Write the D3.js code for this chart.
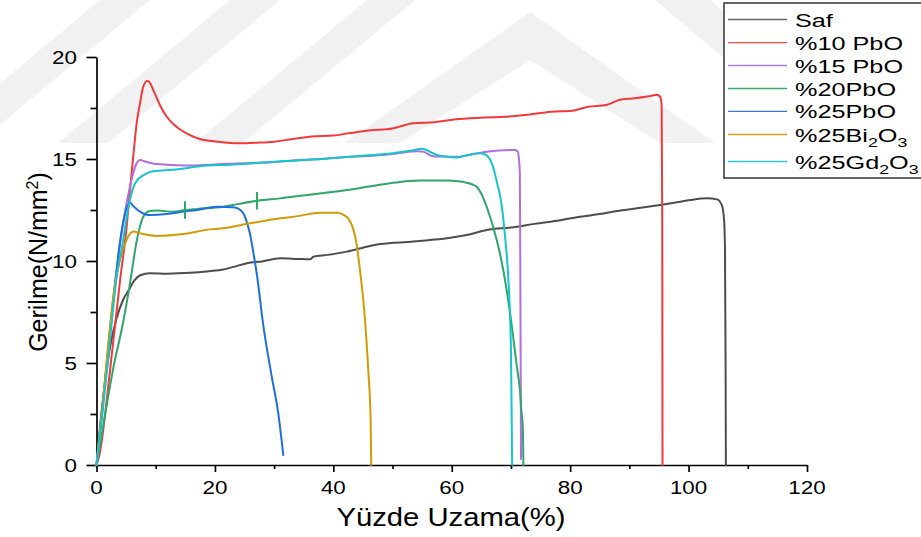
<!DOCTYPE html>
<html><head><meta charset="utf-8">
<script src="https://cdn.jsdelivr.net/npm/d3@7"></script>
<style>
body{margin:0;background:#fff;}
svg{display:block;font-family:Arial,"Liberation Sans",sans-serif;}
</style>
</head><body>
<svg id="chart" width="921" height="537"></svg>
<script>
// ---------------- data ----------------
const seriesNames = ["Saf","%10 PbO","%15 PbO","%20PbO","%25PbO","%25Bi2O3","%25Gd2O3"];
const saf = [[0,0],[0.6,1.9],[1.2,3.5],[2.3,5.8],[3.4,7.2],[4.5,8.1],[5.5,8.6],[6.4,9.05],[7.4,9.3],[9,9.4],[12,9.38],[15.8,9.42],[19,9.5],[21.4,9.58],[23,9.7],[25.4,9.89],[28,9.98],[31,10.13],[34,10.1],[36.1,10.08],[36.6,10.21],[39,10.3],[42.3,10.46],[46.2,10.74],[47.9,10.83],[53.5,10.95],[57,11.05],[59.2,11.11],[62.5,11.27],[65.9,11.52],[70.4,11.65],[74,11.82],[78.3,12.0],[81.7,12.17],[85,12.3],[88,12.45],[91,12.57],[95.2,12.75],[98,12.88],[100.3,12.99],[103.1,13.07],[104.8,13.02],[105.6,12.75],[106.0,12.0],[106.15,10.5],[106.25,5],[106.3,0]];
const pbo10 = [[0,0],[0.5,0.5],[1,1.4],[1.5,2.6],[2,3.9],[2.5,5.2],[3,6.5],[4,9.1],[5.1,11.7],[5.6,13.3],[6.2,15.1],[6.8,16.8],[7.35,17.73],[7.9,18.55],[8.6,18.84],[9.1,18.7],[9.6,18.38],[10.7,17.65],[11.86,17.07],[13.5,16.58],[15.2,16.26],[17.5,15.98],[20.5,15.85],[24,15.77],[27.1,15.8],[30,15.85],[33,15.97],[36.4,16.1],[40,16.15],[42.6,16.26],[46,16.4],[50,16.5],[53.5,16.75],[57,16.8],[61.2,16.96],[65.6,17.04],[69,17.07],[72.4,17.16],[76.8,17.32],[80.4,17.37],[83,17.56],[86.1,17.65],[88.4,17.9],[90.6,17.97],[93.8,18.1],[94.6,18.15],[95.2,18.05],[95.45,17.6],[95.55,12],[95.6,0]];
const pbo15 = [[0,0],[0.5,1.4],[1,2.9],[1.5,4.3],[2,5.7],[2.84,8.2],[3.5,9.8],[4.5,11.85],[5.4,13.3],[6.2,14.3],[6.8,14.8],[7.35,14.95],[8.2,14.88],[10.2,14.75],[14.7,14.68],[21.4,14.75],[26,14.8],[30.2,14.85],[32.7,14.92],[38,15.0],[42,15.1],[45.7,15.15],[50,15.25],[54.3,15.38],[55.3,15.35],[56.6,15.15],[58,15.12],[61.2,15.11],[63,15.2],[65.9,15.36],[68,15.42],[70.6,15.44],[71.1,15.38],[71.35,15.0],[71.5,14.3],[71.6,8],[71.7,0.3]];
const pbo20 = [[0,0],[1,1.7],[2,3.4],[3,5.0],[4,6.3],[4.5,7.0],[5.66,8.9],[6.8,11.0],[7.35,11.7],[7.9,12.17],[9,12.45],[10.2,12.47],[13,12.42],[15,12.5],[17,12.55],[21.4,12.66],[24,12.8],[27,12.95],[31,13.07],[36,13.25],[42.3,13.48],[46,13.65],[49.6,13.81],[52,13.9],[54.6,13.94],[57,13.95],[59.2,13.94],[62.5,13.84],[63.5,13.75],[64.2,13.64],[65.0,13.3],[65.9,12.66],[67.6,11.03],[68.7,9.56],[69.85,7.44],[71.0,4.82],[71.5,3.7],[71.8,2.53],[72.0,1.88],[72.1,0]];
const pbo25 = [[0,0],[1,2.8],[2,5.8],[3,8.5],[4,11.0],[4.8,12.3],[5.3,12.75],[5.66,12.86],[6.2,12.7],[7.35,12.42],[9,12.25],[11.86,12.3],[14.66,12.42],[17,12.5],[20.3,12.66],[23.1,12.63],[24.3,12.5],[24.8,12.34],[25.4,11.9],[25.9,11.36],[26.5,10.4],[27.06,9.4],[28.2,6.78],[29.6,4.33],[30.7,2.53],[31.55,0.49]];
const bi2o3 = [[0,0],[1,2.8],[2,6.0],[3,8.6],[4,10.1],[4.5,10.6],[5.2,11.1],[6.2,11.44],[7.35,11.36],[10.2,11.23],[14.66,11.32],[19.2,11.55],[21.4,11.6],[25,11.8],[28,11.95],[31,12.09],[34,12.2],[37.75,12.37],[40.8,12.37],[41.8,12.25],[42.5,12.09],[43.2,11.7],[43.7,11.19],[44.5,9.56],[45.35,7.1],[45.9,4.66],[46.3,2.2],[46.4,0]];
const gd2o3 = [[0,0],[1,2.5],[2,5.3],[3,8.2],[3.4,9.2],[4.5,11.0],[5.3,12.5],[6.2,13.6],[7.0,14.0],[7.9,14.2],[9.3,14.38],[10.2,14.42],[13.5,14.49],[18.6,14.68],[22.5,14.72],[27,14.8],[32,14.9],[38,15.0],[42,15.1],[46,15.18],[50,15.28],[53,15.4],[55.0,15.5],[55.6,15.45],[57.5,15.2],[59,15.12],[60.8,15.07],[62.5,15.18],[64.8,15.28],[65.8,15.2],[66.5,14.95],[67.1,14.5],[67.6,13.9],[68.4,12.8],[69.0,11.2],[69.6,8.9],[70.0,5.6],[70.1,3.0],[70.2,0]];
const pbo20Markers = [14.95, 27.1];   // x positions of the vertical tick marks on the %20PbO curve
const xTickValues = [0,20,40,60,80,100,120];
const yTickValues = [0,5,10,15,20];
const xMinorValues = [10,30,50,70,90,110];
const yMinorValues = [2.5,7.5,12.5,17.5];
const xTitle = "Yüzde Uzama(%)";
const yTitleMain = "Gerilme(N/mm";
const yTitleSup = "2";
const yTitleEnd = ")";
// legend labels split into [text, isSubscript]
const legendParts = [
  [["Saf",0]],
  [["%10 PbO",0]],
  [["%15 PbO",0]],
  [["%20PbO",0]],
  [["%25PbO",0]],
  [["%25Bi",0],["2",1],["O",0],["3",1]],
  [["%25Gd",0],["2",1],["O",0],["3",1]]
];

// ---------------- styles ----------------
const seriesData = [saf, pbo10, pbo15, pbo20, pbo25, bi2o3, gd2o3];
const lineColors = ["#4d4d4d","#f03a3a","#b46ee4","#2fa66a","#1d6fe0","#d09c06","#14c5cb"];
const legendColors = ["#666666","#f05050","#b07ee0","#3aaa70","#3a78d6","#d4a020","#30c8cc"];

const svg = d3.select("#chart");
const W = 921, H = 537;
const x = d3.scaleLinear().domain([0,120]).range([96.5,807]);
const y = d3.scaleLinear().domain([0,20]).range([465,57]);

svg.append("rect").attr("width",W).attr("height",H).attr("fill","#fff");

// faint background watermark (decoration of the source image)
const wm = svg.append("g").attr("fill","#f1f1f1");
const wmShapes = [
  "M345,143 L530,12 L715,143 L660,143 L530,60 L400,143 Z",
  "M100,0 L150,0 L-22,143 L-72,143 Z",
  "M230,0 L280,0 L108,143 L58,143 Z",
  "M367,0 L415,0 L243,143 L195,143 Z",
  "M655,0 L710,0 L880,143 L825,143 Z"
];
wmShapes.forEach(d => wm.append("path").attr("d", d));

// ---------------- axes ----------------
const axisColor = "#000";
const gx = svg.append("g").attr("transform",`translate(0,${y(0)})`);
gx.call(d3.axisBottom(x).tickValues(xTickValues).tickSize(7).tickSizeOuter(0).tickFormat(""));
const gxm = svg.append("g").attr("transform",`translate(0,${y(0)})`);
gxm.call(d3.axisBottom(x).tickValues(xMinorValues).tickSize(4).tickSizeOuter(0).tickFormat(""));
gxm.select(".domain").remove();

const gy = svg.append("g").attr("transform",`translate(${x(0)},0)`);
gy.call(d3.axisLeft(y).tickValues(yTickValues).tickSize(10).tickSizeOuter(0).tickFormat(""));
const gym = svg.append("g").attr("transform",`translate(${x(0)},0)`);
gym.call(d3.axisLeft(y).tickValues(yMinorValues).tickSize(6).tickSizeOuter(0).tickFormat(""));
gym.select(".domain").remove();

svg.selectAll(".domain, .tick line").attr("stroke",axisColor).attr("stroke-width",1.7);

// tick labels
svg.append("g").selectAll("text").data(xTickValues).join("text")
  .attr("transform", d => `translate(${x(d)},494) scale(1.28,1)`)
  .attr("text-anchor","middle").attr("font-size",17.5).attr("fill","#000")
  .text(d => d);
svg.append("g").selectAll("text").data(yTickValues).join("text")
  .attr("transform", d => `translate(77,${y(d)+6.5}) scale(1.28,1)`)
  .attr("text-anchor","end").attr("font-size",17.5).attr("fill","#000")
  .text(d => d);

// axis titles
svg.append("text")
  .attr("transform",`translate(451,526) scale(1.17,1)`)
  .attr("text-anchor","middle").attr("font-size",25).attr("fill","#000")
  .text(xTitle);
const yt = svg.append("text")
  .attr("transform",`translate(47,262) rotate(-90)`)
  .attr("text-anchor","middle").attr("font-size",25).attr("fill","#000");
yt.append("tspan").text(yTitleMain);
yt.append("tspan").attr("dy",-9).attr("font-size",16).text(yTitleSup);
yt.append("tspan").attr("dy",9).text(yTitleEnd);

// ---------------- curves ----------------
const line = d3.line().x(d => x(d[0])).y(d => y(d[1])).curve(d3.curveMonotoneX);
const curves = svg.append("g").attr("fill","none").attr("stroke-linejoin","round").attr("stroke-linecap","round");
seriesData.forEach((data, i) => {
  curves.append("path").datum(data)
    .attr("d", line)
    .attr("stroke", lineColors[i])
    .attr("stroke-width", 2);
});

// markers on the %20PbO curve
function interpY(data, xv){
  for (let k = 1; k < data.length; k++){
    if (data[k][0] >= xv){
      const [x0,y0] = data[k-1], [x1,y1] = data[k];
      return y0 + (y1 - y0) * (xv - x0) / (x1 - x0);
    }
  }
  return data[data.length-1][1];
}
curves.selectAll(".mk").data(pbo20Markers).join("line")
  .attr("x1", d => x(d)).attr("x2", d => x(d))
  .attr("y1", d => y(interpY(pbo20, d)) - 8)
  .attr("y2", d => y(interpY(pbo20, d)) + 8)
  .attr("stroke", lineColors[3]).attr("stroke-width", 2);

// ---------------- legend ----------------
const lg = svg.append("g");
lg.append("rect").attr("x",724).attr("y",3).attr("width",260).attr("height",175)
  .attr("fill","#fff").attr("stroke","#333").attr("stroke-width",1.5);
const rowY = [19.5, 42.7, 65.5, 88.5, 111.3, 134.5, 161.5];
legendParts.forEach((parts, i) => {
  lg.append("line").attr("x1",728).attr("x2",787).attr("y1",rowY[i]).attr("y2",rowY[i])
    .attr("stroke",legendColors[i]).attr("stroke-width",1.3);
  const t = lg.append("text")
    .attr("transform",`translate(795,${rowY[i]+7}) scale(1.365,1)`)
    .attr("font-size",18.5).attr("fill","#000");
  let sub = 0;
  parts.forEach(([txt, s]) => {
    const ts = t.append("tspan").text(txt);
    if (s && !sub){ ts.attr("dy",5).attr("font-size",13); sub = 1; }
    else if (!s && sub){ ts.attr("dy",-5); sub = 0; }
    else if (s && sub){ ts.attr("font-size",13); }
  });
});
</script>
</body></html>
